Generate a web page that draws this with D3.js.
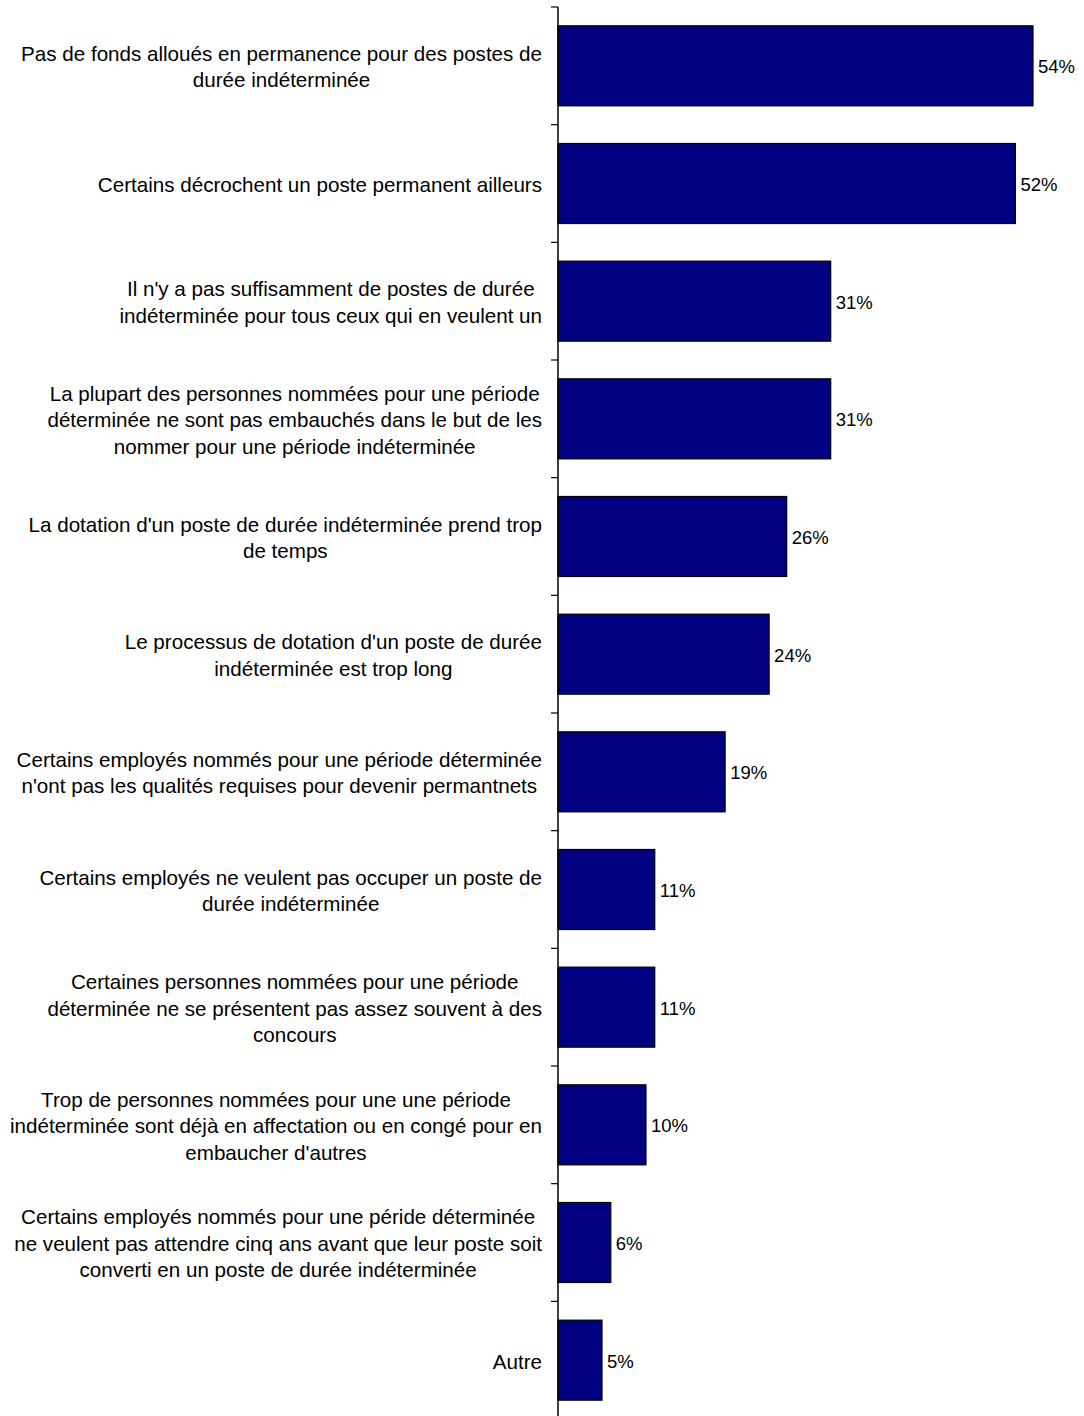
<!DOCTYPE html>
<html>
<head>
<meta charset="utf-8">
<script src="https://cdn.jsdelivr.net/npm/d3@7"></script>
<style>
  html, body { margin: 0; padding: 0; background: #fff; }
  svg text { font-family: "Liberation Sans", Arial, sans-serif; fill: #000; }
</style>
</head>
<body>
<svg id="chart" width="1084" height="1416"></svg>
<script>
// Category labels (each entry holds its wrapped lines) and percentages
const categories = [
  ["Pas de fonds alloués en permanence pour des postes de", "durée indéterminée"],
  ["Certains décrochent un poste permanent ailleurs"],
  ["Il n'y a pas suffisamment de postes de durée ", "indéterminée pour tous ceux qui en veulent un"],
  ["La plupart des personnes nommées pour une période", "déterminée ne sont pas embauchés dans le but de les", "nommer pour une période indéterminée"],
  ["La dotation d'un poste de durée indéterminée prend trop", "de temps"],
  ["Le processus de dotation d'un poste de durée", "indéterminée est trop long"],
  ["Certains employés nommés pour une période déterminée", "n'ont pas les qualités requises pour devenir permantnets"],
  ["Certains employés ne veulent pas occuper un poste de", "durée indéterminée"],
  ["Certaines personnes nommées pour une période", "déterminée ne se présentent pas assez souvent à des", "concours"],
  ["Trop de personnes nommées pour une une période", "indéterminée sont déjà en affectation ou en congé pour en", "embaucher d'autres"],
  ["Certains employés nommés pour une péride déterminée", "ne veulent pas attendre cinq ans avant que leur poste soit", "converti en un poste de durée indéterminée"],
  ["Autre"]
];
const values = [54, 52, 31, 31, 26, 24, 19, 11, 11, 10, 6, 5];

const svg = d3.select("#chart");
const axisX = 558;
const plotTop = 7, plotBottom = 1419;

const keys = categories.map((c, i) => i);
const y = d3.scaleBand().domain(keys).range([plotTop, plotBottom]).paddingInner(0.32).paddingOuter(0.16);
const yTicks = d3.scaleBand().domain(keys).range([plotTop, plotBottom]);
const x = d3.scaleLinear().domain([0, 54]).range([axisX, 1033]);

// bars
svg.append("g").selectAll("rect")
  .data(values)
  .join("rect")
  .attr("x", x(0))
  .attr("y", (d, i) => y(i))
  .attr("width", d => x(d) - x(0))
  .attr("height", y.bandwidth())
  .attr("fill", "#000080")
  .attr("stroke", "#000")
  .attr("stroke-width", 1.2);

// value labels
svg.append("g").selectAll("text")
  .data(values)
  .join("text")
  .attr("x", d => x(d) + 5)
  .attr("y", (d, i) => y(i) + y.bandwidth() / 2 + 1)
  .attr("dy", "0.36em")
  .attr("font-size", 18.5)
  .text(d => d + "%");

// vertical axis with boundary ticks between categories
const axisG = svg.append("g");
axisG.append("line")
  .attr("x1", axisX).attr("x2", axisX)
  .attr("y1", plotTop).attr("y2", plotBottom)
  .attr("stroke", "#000").attr("stroke-width", 1.5);
axisG.selectAll("line.tick")
  .data(keys)
  .join("line")
  .attr("class", "tick")
  .attr("x1", axisX - 7).attr("x2", axisX)
  .attr("y1", d => yTicks(d)).attr("y2", d => yTicks(d))
  .attr("stroke", "#000").attr("stroke-width", 1.2);

// category labels: block right-aligned to the axis, lines centred within the block
const lineH = 26.5;
const labelRight = 542;
categories.forEach((lines, i) => {
  const cy = y(i) + y.bandwidth() / 2 + 1;
  const g = svg.append("g");
  const texts = lines.map((ln, j) => g.append("text")
    .attr("font-size", 20.6)
    .attr("text-anchor", "middle")
    .attr("y", cy + (j - (lines.length - 1) / 2) * lineH)
    .attr("dy", "0.36em")
    .text(ln));
  const w = d3.max(texts, t => t.node().getComputedTextLength());
  texts.forEach(t => t.attr("x", labelRight - w / 2));
});
</script>
</body>
</html>
